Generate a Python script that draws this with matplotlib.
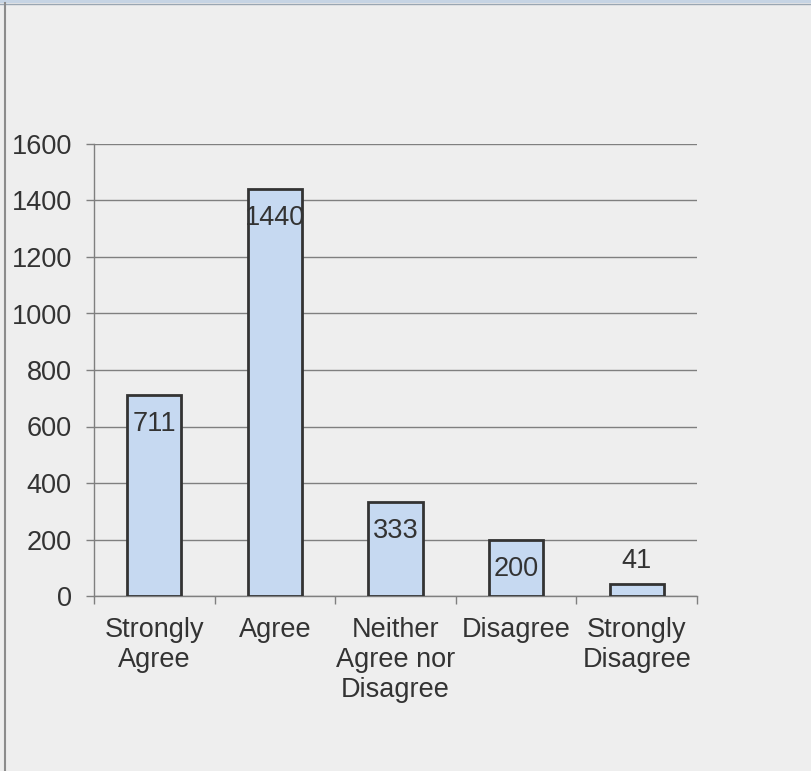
import matplotlib
matplotlib.use("Agg")
import matplotlib.pyplot as plt
from matplotlib.patches import Rectangle
from matplotlib.lines import Line2D

categories = ["Strongly\nAgree", "Agree", "Neither\nAgree nor\nDisagree", "Disagree", "Strongly\nDisagree"]
values = [711, 1440, 333, 200, 41]
yticks = [0, 200, 400, 600, 800, 1000, 1200, 1400, 1600]

plt.rcParams['font.family'] = ['Liberation Sans', 'DejaVu Sans']
txt = '#333333'
bg = '#EEEEEE'
fs = 19.5

fig = plt.figure(figsize=(8.11, 7.71), dpi=100, facecolor=bg)
ax = fig.add_axes([94/811, 1-596/771, (697-94)/811, (596-144)/771])
ax.set_facecolor(bg)

x = list(range(len(values)))
ax.bar(x, values, width=0.45, color='#C6D9F1', edgecolor='#333333', linewidth=2, zorder=3)

for xi, v in zip(x, values):
    if v > 100:
        ax.annotate(str(v), (xi, v), xytext=(0, -21), textcoords='offset points',
                    ha='center', va='center', fontsize=fs, color=txt, zorder=4)
    else:
        ax.annotate(str(v), (xi, v), xytext=(0, 17), textcoords='offset points',
                    ha='center', va='center', fontsize=fs, color=txt, zorder=4)

ax.set_xlim(-0.5, len(values) - 0.5)
ax.set_ylim(0, 1600)
ax.set_yticks(yticks)
ax.set_yticklabels([str(t) for t in yticks])
ax.yaxis.grid(True, color='#7F7F7F', linewidth=1, zorder=0)
ax.set_axisbelow(True)

ax.set_xticks([i - 0.5 for i in range(len(values) + 1)], minor=False)
ax.set_xticklabels([])
ax.set_xticks(x, minor=True)
ax.set_xticklabels(categories, minor=True, fontsize=fs, color=txt, linespacing=1.2)
ax.tick_params(axis='x', which='major', length=6, width=1, color='#7F7F7F', direction='out')
ax.tick_params(axis='x', which='minor', length=0, pad=15)
ax.tick_params(axis='y', length=6, width=1, color='#7F7F7F', labelsize=fs, labelcolor=txt, pad=10)

for s in ['top', 'right']:
    ax.spines[s].set_visible(False)
ax.spines['left'].set_color('#7F7F7F')
ax.spines['bottom'].set_color('#7F7F7F')
ax.spines['left'].set_linewidth(1)
ax.spines['bottom'].set_linewidth(1)

# figure frame: top band and left border
fig.patches.append(Rectangle((0, 1-3/771), 1, 3/771, transform=fig.transFigure,
                             facecolor='#C6D4E4', edgecolor='none'))
fig.lines.append(Line2D([0, 1], [1-3.5/771, 1-3.5/771], transform=fig.transFigure,
                        color='#9AA6B2', linewidth=1))
fig.lines.append(Line2D([4.5/811, 4.5/811], [0, 1-3/771], transform=fig.transFigure,
                        color='#8C8C8C', linewidth=1.5))

fig.savefig('out.png', dpi=100, facecolor=bg)
